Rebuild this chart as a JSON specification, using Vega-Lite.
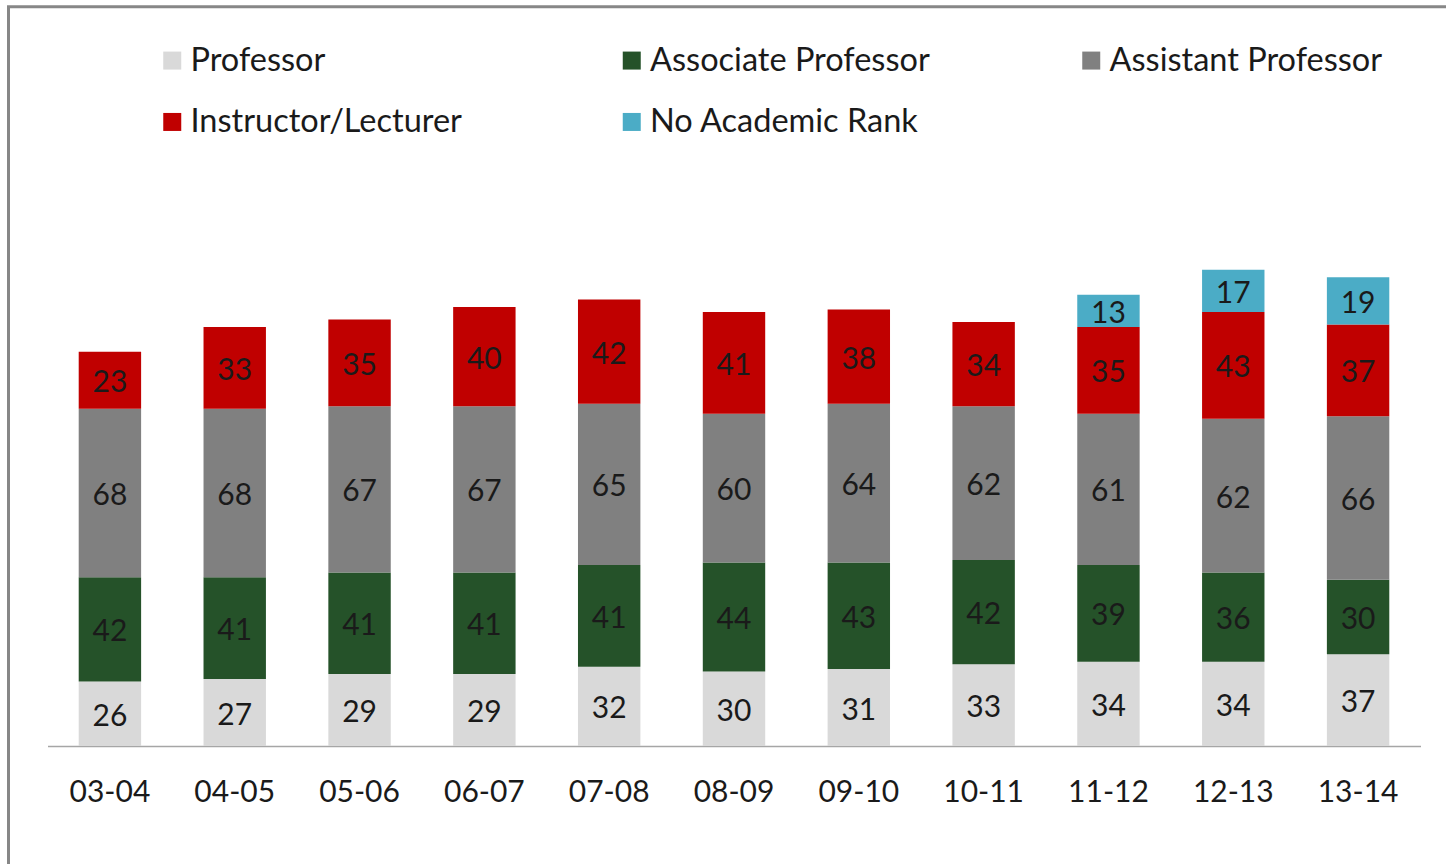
{
  "$schema": "https://vega.github.io/schema/vega-lite/v6.json",
  "width": 1460,
  "height": 880,
  "autosize": {"type": "none"},
  "padding": {"left": 8.5, "top": 6.7, "right": -22.5, "bottom": -22.7},
  "background": "white",
  "config": {"view": {"stroke": "#878787", "strokeWidth": 3}, "font": "Lato"},
  "data": {"values": [
    {"year": "03-04", "rank": "Professor", "k": 1, "value": 26},
    {"year": "03-04", "rank": "Associate Professor", "k": 2, "value": 42},
    {"year": "03-04", "rank": "Assistant Professor", "k": 3, "value": 68},
    {"year": "03-04", "rank": "Instructor/Lecturer", "k": 4, "value": 23},
    {"year": "04-05", "rank": "Professor", "k": 1, "value": 27},
    {"year": "04-05", "rank": "Associate Professor", "k": 2, "value": 41},
    {"year": "04-05", "rank": "Assistant Professor", "k": 3, "value": 68},
    {"year": "04-05", "rank": "Instructor/Lecturer", "k": 4, "value": 33},
    {"year": "05-06", "rank": "Professor", "k": 1, "value": 29},
    {"year": "05-06", "rank": "Associate Professor", "k": 2, "value": 41},
    {"year": "05-06", "rank": "Assistant Professor", "k": 3, "value": 67},
    {"year": "05-06", "rank": "Instructor/Lecturer", "k": 4, "value": 35},
    {"year": "06-07", "rank": "Professor", "k": 1, "value": 29},
    {"year": "06-07", "rank": "Associate Professor", "k": 2, "value": 41},
    {"year": "06-07", "rank": "Assistant Professor", "k": 3, "value": 67},
    {"year": "06-07", "rank": "Instructor/Lecturer", "k": 4, "value": 40},
    {"year": "07-08", "rank": "Professor", "k": 1, "value": 32},
    {"year": "07-08", "rank": "Associate Professor", "k": 2, "value": 41},
    {"year": "07-08", "rank": "Assistant Professor", "k": 3, "value": 65},
    {"year": "07-08", "rank": "Instructor/Lecturer", "k": 4, "value": 42},
    {"year": "08-09", "rank": "Professor", "k": 1, "value": 30},
    {"year": "08-09", "rank": "Associate Professor", "k": 2, "value": 44},
    {"year": "08-09", "rank": "Assistant Professor", "k": 3, "value": 60},
    {"year": "08-09", "rank": "Instructor/Lecturer", "k": 4, "value": 41},
    {"year": "09-10", "rank": "Professor", "k": 1, "value": 31},
    {"year": "09-10", "rank": "Associate Professor", "k": 2, "value": 43},
    {"year": "09-10", "rank": "Assistant Professor", "k": 3, "value": 64},
    {"year": "09-10", "rank": "Instructor/Lecturer", "k": 4, "value": 38},
    {"year": "10-11", "rank": "Professor", "k": 1, "value": 33},
    {"year": "10-11", "rank": "Associate Professor", "k": 2, "value": 42},
    {"year": "10-11", "rank": "Assistant Professor", "k": 3, "value": 62},
    {"year": "10-11", "rank": "Instructor/Lecturer", "k": 4, "value": 34},
    {"year": "11-12", "rank": "Professor", "k": 1, "value": 34},
    {"year": "11-12", "rank": "Associate Professor", "k": 2, "value": 39},
    {"year": "11-12", "rank": "Assistant Professor", "k": 3, "value": 61},
    {"year": "11-12", "rank": "Instructor/Lecturer", "k": 4, "value": 35},
    {"year": "11-12", "rank": "No Academic Rank", "k": 5, "value": 13},
    {"year": "12-13", "rank": "Professor", "k": 1, "value": 34},
    {"year": "12-13", "rank": "Associate Professor", "k": 2, "value": 36},
    {"year": "12-13", "rank": "Assistant Professor", "k": 3, "value": 62},
    {"year": "12-13", "rank": "Instructor/Lecturer", "k": 4, "value": 43},
    {"year": "12-13", "rank": "No Academic Rank", "k": 5, "value": 17},
    {"year": "13-14", "rank": "Professor", "k": 1, "value": 37},
    {"year": "13-14", "rank": "Associate Professor", "k": 2, "value": 30},
    {"year": "13-14", "rank": "Assistant Professor", "k": 3, "value": 66},
    {"year": "13-14", "rank": "Instructor/Lecturer", "k": 4, "value": 37},
    {"year": "13-14", "rank": "No Academic Rank", "k": 5, "value": 19}
  ]},
  "transform": [
    {"stack": "value", "groupby": ["year"], "sort": [{"field": "k", "order": "ascending"}], "as": ["v0", "v1"]}
  ],
  "encoding": {
    "x": {
      "field": "year", "type": "nominal",
      "scale": {"range": [39, 1412], "paddingInner": 0.5, "paddingOuter": 0.25},
      "axis": {
        "title": null, "domainColor": "#a6a6a6", "domainWidth": 1.5,
        "ticks": false, "tickSize": 0, "labelFont": "Lato", "labelFontSize": 30,
        "labelColor": "#1a1a1a", "labelPadding": 31, "labelAngle": 0,
        "offset": -140.7, "grid": false
      }
    }
  },
  "layer": [
    {
      "mark": {"type": "bar"},
      "encoding": {
        "y": {"field": "v0", "type": "quantitative", "scale": {"domain": [0, 200], "range": [739.3, 243.3]}, "axis": null},
        "y2": {"field": "v1"},
        "color": {
          "field": "rank", "type": "nominal",
          "scale": {
            "domain": ["Professor", "Associate Professor", "Assistant Professor", "Instructor/Lecturer", "No Academic Rank"],
            "range": ["#d9d9d9", "#255229", "#808080", "#c00000", "#4bacc6"]
          },
          "legend": {
            "orient": "none", "legendX": 147.5, "legendY": 37.5, "direction": "horizontal",
            "columns": 3, "gridAlign": "all", "symbolType": "square", "symbolSize": 324,
            "symbolStrokeWidth": 0, "labelFont": "Lato", "labelFontSize": 32.5,
            "labelColor": "#1a1a1a", "labelOffset": 2, "columnPadding": 144.5,
            "rowPadding": 28.5, "title": null, "labelLimit": 500, "padding": 0
          }
        }
      }
    },
    {
      "transform": [
        {"fold": ["v0", "v1"], "as": ["edge", "pos"]},
        {"aggregate": [{"op": "mean", "field": "pos", "as": "mid"}], "groupby": ["year", "rank", "value", "k"]}
      ],
      "mark": {"type": "text", "font": "Lato", "fontSize": 30, "color": "#1a1a1a", "baseline": "middle", "dy": 3},
      "encoding": {
        "y": {"field": "mid", "type": "quantitative"},
        "text": {"field": "value", "type": "quantitative"}
      }
    }
  ]
}
